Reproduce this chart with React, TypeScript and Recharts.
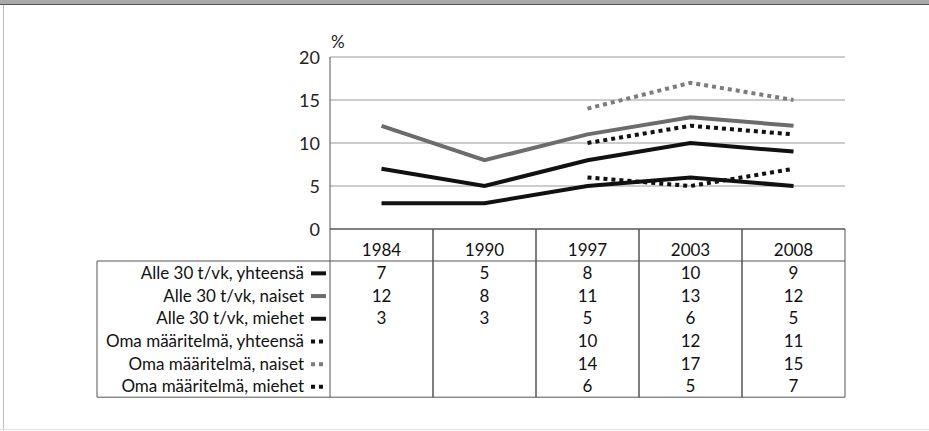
import { LineChart, Line, XAxis, YAxis, CartesianGrid } from "recharts";

// categories
const years = ["1984", "1990", "1997", "2003", "2008"];

// series values (%), null = no observation
const alleYhteensa = [7, 5, 8, 10, 9];
const alleNaiset = [12, 8, 11, 13, 12];
const alleMiehet = [3, 3, 5, 6, 5];
const omaYhteensa = [null, null, 10, 12, 11];
const omaNaiset = [null, null, 14, 17, 15];
const omaMiehet = [null, null, 6, 5, 7];

// y axis ticks
const yTicks = [0, 5, 10, 15, 20];

const series = [
  { key: "alleYht", name: "Alle 30 t/vk, yhteensä", values: alleYhteensa, color: "#111111", dash: undefined },
  { key: "alleNai", name: "Alle 30 t/vk, naiset", values: alleNaiset, color: "#6c6c6c", dash: undefined },
  { key: "alleMie", name: "Alle 30 t/vk, miehet", values: alleMiehet, color: "#111111", dash: undefined },
  { key: "omaYht", name: "Oma määritelmä, yhteensä", values: omaYhteensa, color: "#111111", dash: "4 4" },
  { key: "omaNai", name: "Oma määritelmä, naiset", values: omaNaiset, color: "#7c7c7c", dash: "4 4" },
  { key: "omaMie", name: "Oma määritelmä, miehet", values: omaMiehet, color: "#111111", dash: "4 4" },
];

const data = years.map((year, i) => {
  const row: Record<string, string | number | null> = { year };
  series.forEach((s) => {
    row[s.key] = s.values[i];
  });
  return row;
});

// layout
const W = 929;
const H = 431;
const PLOT_LEFT = 330;
const PLOT_RIGHT = 845;
const PLOT_TOP = 57;
const PLOT_BOTTOM = 229;
const HEADER_BOTTOM = 261;
const ROW_H = 22.7;
const TABLE_LEFT = 97;
const TABLE_BOTTOM = HEADER_BOTTOM + ROW_H * series.length;
const HALF_BAND = (PLOT_RIGHT - PLOT_LEFT) / years.length / 2;
const FONT = "Lato, 'Open Sans', sans-serif";
const LINE_COLOR = "#555";

const rowY = (i: number) => HEADER_BOTTOM + ROW_H * (i + 0.5);

function TableTick(props: any) {
  const { x, payload, index } = props;
  const left = x - HALF_BAND;
  const right = x + HALF_BAND;
  return (
    <g>
      <line x1={left} y1={PLOT_BOTTOM} x2={left} y2={TABLE_BOTTOM} stroke={LINE_COLOR} />
      <line x1={right} y1={PLOT_BOTTOM} x2={right} y2={TABLE_BOTTOM} stroke={LINE_COLOR} />
      <line x1={left} y1={HEADER_BOTTOM} x2={right} y2={HEADER_BOTTOM} stroke={LINE_COLOR} />
      <line x1={left} y1={TABLE_BOTTOM} x2={right} y2={TABLE_BOTTOM} stroke={LINE_COLOR} />
      <text
        x={x}
        y={249}
        textAnchor="middle"
        dominantBaseline="central"
        fontFamily={FONT}
        fontSize={17}
        fill="#111"
      >
        {payload.value}
      </text>
      {series.map((s, i) =>
        s.values[index] == null ? null : (
          <text
            key={s.key}
            x={x}
            y={rowY(i)}
            textAnchor="middle"
            dominantBaseline="central"
            fontFamily={FONT}
            fontSize={17}
            fill="#111"
          >
            {s.values[index]}
          </text>
        )
      )}
      {index === 0 && (
        <g>
          <line x1={TABLE_LEFT} y1={HEADER_BOTTOM} x2={left} y2={HEADER_BOTTOM} stroke={LINE_COLOR} />
          <line x1={TABLE_LEFT} y1={TABLE_BOTTOM} x2={left} y2={TABLE_BOTTOM} stroke={LINE_COLOR} />
          <line x1={TABLE_LEFT} y1={HEADER_BOTTOM} x2={TABLE_LEFT} y2={TABLE_BOTTOM} stroke={LINE_COLOR} />
          {series.map((s, i) => (
            <g key={s.key}>
              <text
                x={left - 26}
                y={rowY(i)}
                textAnchor="end"
                dominantBaseline="central"
                fontFamily={FONT}
                fontSize={17}
                fill="#111"
              >
                {s.name}
              </text>
              <line
                x1={left - 19}
                y1={rowY(i) + 1}
                x2={left - 4}
                y2={rowY(i) + 1}
                stroke={s.color}
                strokeWidth={4}
                strokeDasharray={s.dash}
              />
            </g>
          ))}
        </g>
      )}
    </g>
  );
}

function YTick(props: any) {
  const { x, y, payload } = props;
  return (
    <g>
      <text
        x={x}
        y={y}
        textAnchor="end"
        dominantBaseline="central"
        fontFamily={FONT}
        fontSize={18}
        fill="#222"
      >
        {payload.value}
      </text>
      {payload.value === 20 && (
        <text x={PLOT_LEFT + 1} y={y - 9} fontFamily={FONT} fontSize={17} fill="#222">
          %
        </text>
      )}
    </g>
  );
}

export default function App() {
  return (
    <div
      style={{
        position: "absolute",
        left: 0,
        top: 0,
        width: W,
        height: H,
        background: "#fff",
        overflow: "hidden",
      }}
    >
      <div style={{ position: "absolute", left: 0, top: 0, width: W, height: 4, background: "#a9a9a9", borderBottom: "1px solid #555" }} />
      <div style={{ position: "absolute", left: 3, top: 5, width: 1, height: H - 5, background: "#bbb" }} />
      <div style={{ position: "absolute", left: 0, top: H - 2, width: W, height: 1, background: "#e2e2e2" }} />
      <LineChart
        width={W}
        height={H}
        data={data}
        margin={{ top: PLOT_TOP, right: W - PLOT_RIGHT, bottom: H - PLOT_BOTTOM - 30, left: PLOT_LEFT - 40 }}
      >
        <CartesianGrid vertical={false} stroke="#9a9a9a" strokeWidth={1} />
        <XAxis
          dataKey="year"
          scale="band"
          height={30}
          tickLine={false}
          axisLine={{ stroke: "#333" }}
          tick={<TableTick />}
          interval={0}
        />
        <YAxis
          domain={[0, 20]}
          ticks={yTicks}
          width={40}
          tickLine={false}
          axisLine={{ stroke: "#555" }}
          tickMargin={4}
          tick={<YTick />}
        />
        {series.map((s) => (
          <Line
            key={s.key}
            dataKey={s.key}
            stroke={s.color}
            strokeWidth={4}
            strokeDasharray={s.dash}
            dot={false}
            activeDot={false}
            type="linear"
            connectNulls={false}
            isAnimationActive={false}
          />
        ))}
      </LineChart>
    </div>
  );
}
